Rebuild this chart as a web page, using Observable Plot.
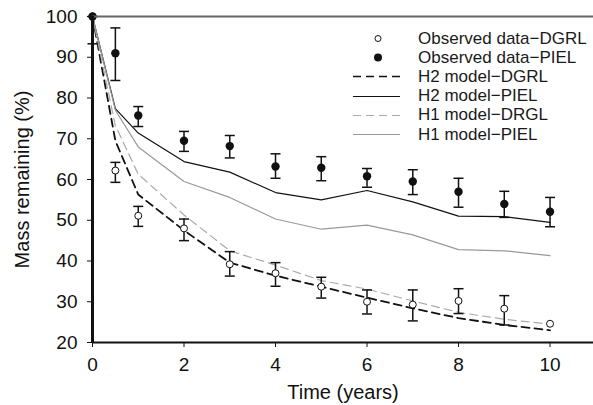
<!DOCTYPE html>
<html>
<head>
<meta charset="utf-8">
<script src="https://cdn.jsdelivr.net/npm/d3@7"></script>
<script src="https://cdn.jsdelivr.net/npm/@observablehq/plot@0.6"></script>
<style>
  html, body { margin: 0; padding: 0; background: #fff; }
  #wrap { position: relative; width: 593px; height: 405px; font-family: "Liberation Sans", Arial, sans-serif; }
  #legend { position: absolute; left: 353px; top: 29px; font-size: 17px; color: #1a1a1a; }
  .row { display: flex; align-items: center; height: 19.2px; }
  .row svg { width: 48px; height: 19px; margin-right: 17px; flex: none; }
</style>
</head>
<body>
<div id="wrap"><div id="chart"></div><div id="legend"></div></div>
<script>
// ---- data ----
const modelTimes = [0, 0.5, 1, 2, 3, 4, 5, 6, 7, 8, 9, 10];
const h2Dgrl = [100, 69.5, 56.3, 47.5, 39.6, 36.4, 33.7, 31.0, 28.4, 26.0, 24.3, 23.0];
const h2Piel = [100, 77.4, 71.4, 64.4, 61.8, 56.8, 55.0, 57.3, 54.5, 51.0, 50.9, 49.5];
const h1Drgl = [100, 73.2, 61.3, 51.3, 42.5, 39.0, 35.2, 33.1, 30.2, 27.4, 25.7, 24.5];
const h1Piel = [100, 77.0, 68.0, 59.5, 55.6, 50.3, 47.8, 48.8, 46.4, 42.8, 42.5, 41.3];

const obsTimes = [0, 0.5, 1, 2, 3, 4, 5, 6, 7, 8, 9, 10];
const dgrlObs = [100, 62.2, 51.1, 48.0, 39.2, 37.0, 33.7, 30.0, 29.3, 30.2, 28.3, 24.6];
const dgrlLo  = [null, 59.3, 48.5, 45.0, 36.3, 33.8, 30.9, 27.0, 25.3, 27.1, 24.3, null];
const dgrlHi  = [null, 64.2, 53.4, 50.3, 42.3, 39.6, 36.0, 32.9, 32.9, 33.2, 31.5, null];
const pielObs = [100, 91.0, 75.7, 69.5, 68.2, 63.2, 62.9, 60.8, 59.5, 57.0, 54.0, 52.1];
const pielLo  = [93.3, 84.3, 73.0, 66.9, 65.3, 60.3, 59.7, 58.1, 56.3, 53.2, 50.7, 48.4];
const pielHi  = [100, 97.2, 77.9, 71.8, 70.8, 66.3, 65.6, 62.7, 62.4, 60.3, 57.1, 55.6];

const xTicks = [0, 2, 4, 6, 8, 10];
const yTicks = [20, 30, 40, 50, 60, 70, 80, 90, 100];

const legendLabels = ["Observed data\u2212DGRL", "Observed data\u2212PIEL", "H2 model\u2212DGRL",
                      "H2 model\u2212PIEL", "H1 model\u2212DRGL", "H1 model\u2212PIEL"];

// ---- tables ----
const series = [
  {name: "H2 model-DGRL", vals: h2Dgrl, stroke: "#111", dash: "8,5", width: 1.8},
  {name: "H2 model-PIEL", vals: h2Piel, stroke: "#111", dash: null, width: 1.2},
  {name: "H1 model-DRGL", vals: h1Drgl, stroke: "#aaa", dash: "8,5", width: 1.2},
  {name: "H1 model-PIEL", vals: h1Piel, stroke: "#999", dash: null, width: 1.2}
];
const lineMarks = series.map(s => Plot.line(modelTimes.map((t, i) => ({t, v: s.vals[i]})),
  {x: "t", y: "v", stroke: s.stroke, strokeWidth: s.width, strokeDasharray: s.dash}));

const dgrl = obsTimes.map((t, i) => ({t, v: dgrlObs[i], lo: dgrlLo[i], hi: dgrlHi[i]}));
const piel = obsTimes.map((t, i) => ({t, v: pielObs[i], lo: pielLo[i], hi: pielHi[i]}));
const errs = [...dgrl, ...piel].filter(d => d.lo != null);
const caps = errs.flatMap(d => [{t: d.t, y: d.lo}, {t: d.t, y: d.hi}]);

const capSymbol = {
  draw(context, size) {
    const r = Math.sqrt(size / Math.PI);
    context.moveTo(-r, 0);
    context.lineTo(r, 0);
  }
};

const chart = Plot.plot({
  width: 593,
  height: 405,
  marginLeft: 92,
  marginRight: 0,
  marginTop: 16,
  marginBottom: 63,
  style: {fontFamily: "'Liberation Sans', Arial, sans-serif", background: "#fff", color: "#111"},
  x: {domain: [0, 10.95]},
  y: {domain: [20, 100]},
  marks: [
    ...lineMarks,
    Plot.ruleX(errs, {x: "t", y1: "lo", y2: "hi", stroke: "#111", strokeWidth: 1.5}),
    Plot.dot(caps, {x: "t", y: "y", symbol: capSymbol, r: 5, stroke: "#111", strokeWidth: 1.5, fill: "none"}),
    Plot.dot(dgrl, {x: "t", y: "v", r: 3.5, fill: "white", stroke: "#111", strokeWidth: 1}),
    Plot.dot(piel, {x: "t", y: "v", r: 4.2, fill: "#111", stroke: "none"}),
    Plot.ruleY([100], {stroke: "#666", strokeWidth: 2}),
    Plot.ruleY([20], {stroke: "#111", strokeWidth: 2}),
    Plot.ruleX([0], {stroke: "#111", strokeWidth: 3}),
    Plot.axisX({ticks: xTicks, tickSize: 5, tickPadding: 10, fontSize: 19, stroke: "#111",
      label: "Time (years)", labelAnchor: "center", labelOffset: 56, labelArrow: "none"}),
    Plot.axisY({ticks: yTicks, tickSize: 5, tickPadding: 10, fontSize: 19, stroke: "#111",
      label: "Mass remaining (%)", labelAnchor: "center", labelOffset: 78, labelArrow: "none"})
  ]
});
chart.querySelectorAll("g[aria-label='x-axis label'] text, g[aria-label='y-axis label'] text")
  .forEach(t => t.setAttribute("font-size", "20"));
document.getElementById("chart").appendChild(chart);

// ---- legend ----
const legendSymbols = [
  `<circle cx="25" cy="9.5" r="3" fill="white" stroke="#111" stroke-width="1"/>`,
  `<circle cx="25" cy="9.5" r="4" fill="#111"/>`,
  `<line x1="0" y1="9.5" x2="47" y2="9.5" stroke="#111" stroke-width="1.5" stroke-dasharray="8,5"/>`,
  `<line x1="0" y1="9.5" x2="47" y2="9.5" stroke="#111" stroke-width="1.2"/>`,
  `<line x1="0" y1="9.5" x2="47" y2="9.5" stroke="#aaa" stroke-width="1.2" stroke-dasharray="8,5"/>`,
  `<line x1="0" y1="9.5" x2="47" y2="9.5" stroke="#999" stroke-width="1.2"/>`
];
const legend = document.getElementById("legend");
legendLabels.forEach((lab, i) => {
  const row = document.createElement("div");
  row.className = "row";
  row.innerHTML = `<svg viewBox="0 0 48 19">${legendSymbols[i]}</svg><span>${lab}</span>`;
  legend.appendChild(row);
});
</script>
</body>
</html>
